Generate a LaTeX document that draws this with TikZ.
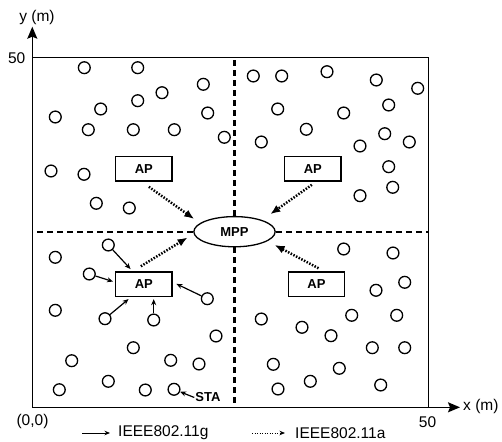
\documentclass[tikz,border=0pt]{standalone}
\usepackage{fontspec}
\setmainfont{Liberation Sans}
\usetikzlibrary{arrows.meta,shapes.geometric,positioning}

\begin{document}
\begin{tikzpicture}[x=1pt,y=-1pt,
    lbl/.style={inner sep=1pt, font=\fontsize{15.5}{18}\selectfont},
    stanode/.style={draw, circle, minimum size=11.8pt, inner sep=0pt, line width=1.3pt},
    apnode/.style={draw, rectangle, minimum width=56.5pt, minimum height=24.5pt, inner sep=0pt, line width=1.4pt, font=\fontsize{13}{14}\selectfont\bfseries},
    mppnode/.style={draw, ellipse, minimum width=81.3pt, minimum height=30.2pt, inner sep=0pt, line width=1.3pt, fill=white, font=\fontsize{13}{14}\selectfont\bfseries},
    gline/.style={-{Stealth[length=6pt,width=5pt]}, line width=1.2pt},
    aline/.style={-{Latex[length=10pt,width=8pt]}, line width=2.5pt, dash pattern=on 1.5pt off 1.5pt},
    part/.style={line width=2.3pt, dash pattern=on 6pt off 4pt},
    axis/.style={-{Stealth[length=12pt,width=10pt,inset=2pt]}, line width=1.3pt}
  ]
    \useasboundingbox (0,0) rectangle (502,441);
    % area and axes
    \coordinate (o) at (32.3,407.3);
    \coordinate (ne) at (428.3,57.3);
    \coordinate (xend) at (460,407.3);
    \coordinate (yend) at (32.3,26.7);
    \draw[line width=1.3pt] (o) rectangle (ne);
    \draw[axis] (o) -- (xend);
    \draw[axis] (o) -- (yend);
    \node[lbl] (ylbl) at (37,17.5) {y (m)};
    \node[lbl, anchor=west] (xlbl) at (462,406.7) {x (m)};
    \node[lbl] (ymax) at (16.7,58) {50};
    \node[lbl] (xmax) at (427.5,422) {50};
    \node[lbl] (orig) at (32.5,421) {(0,0)};

    % mesh portal and access points
    \node[mppnode] (mpp) at (234.5,231.7) {MPP};
    \draw[part] (mpp.north) -- (mpp.north |- ne);
    \draw[part] (mpp.south) -- (mpp.south |- o);
    \draw[part] (mpp.west) -- (mpp.west -| o);
    \draw[part] (mpp.east) -- (mpp.east -| ne);
    \node[apnode] (apTL) at (143.85,168.85) {AP};
    \node[apnode] (apTR) at (312.85,168.85) {AP};
    \node[apnode] (apBL) at (143.85,284.2) {AP};
    \node[apnode] (apBR) at (316.5,284.2) {AP};

    % stations
    \foreach \x/\y in {84.3/67.7, 137.7/67.7, 203.3/84.3, 162/92.7, 100.7/109, 137.7/100.7,
        55.3/117, 207.7/113, 88.3/129.7, 133.3/129.7, 174.3/129.7, 224.3/137.3,
        51/171, 84/174.3, 96.3/203.3, 129.3/208,
        253.3/76, 281.7/76, 327/71.7, 376.3/80, 417.7/88.3, 388.7/105, 277.7/109,
        343.7/113, 306.3/129.3, 384.7/133.7, 261.3/142, 360/146, 409.3/142,
        388.7/166.7, 392.7/187.3, 360/195.7,
        55.3/257.3, 55.3/310.3, 216/336, 133.3/347.7, 71.7/360.7, 170.7/360.3,
        199/364, 59.3/389.7, 108.3/381.3, 145.3/390,
        343.7/249, 393/253, 404.7/282.3, 376/290.3, 261.3/319, 351.7/315.3,
        396.7/315.3, 302/327.3, 331/335.7, 372.3/347.7, 404.7/347.7, 273.3/364.3,
        339.3/368.3, 310.3/381.3, 278/389, 380.7/385}
      \node[stanode] at (\x,\y) {};
    \node[stanode] (s1) at (108.3,245) {};
    \node[stanode] (s2) at (89.3,274) {};
    \node[stanode] (s3) at (105,318.7) {};
    \node[stanode] (s4) at (153.7,320) {};
    \node[stanode] (s5) at (207.3,298.7) {};
    \node[stanode] (sta) at (174,389.3) {};
    \node[inner sep=1pt, font=\fontsize{13}{14}\selectfont\bfseries] (stalbl) at (208,397.5) {STA};

    % 802.11g links
    \draw[gline, shorten >=3pt] (s1) -- (apBL.131);
    \draw[gline, shorten >=2pt] (s2) -- (apBL.176);
    \draw[gline, shorten >=3pt] (s3) -- (apBL.225);
    \draw[gline, shorten >=2pt] (s4) -- (s4 |- apBL.south);
    \draw[gline, shorten >=4pt] (s5) -- (apBL.4);
    \draw[gline] (stalbl.west) -- (sta);

    % 802.11a links
    \draw[aline, shorten >=7pt] ([xshift=5pt,yshift=-5pt]apTL.south) -- (mpp.166);
    \draw[aline, shorten >=10pt] ([xshift=-1pt,yshift=-3pt]apTR.south) -- (mpp.23);
    \draw[aline, shorten >=7pt] ([xshift=-3pt,yshift=5pt]apBL.north) -- (mpp.183);
    \draw[aline, shorten >=8pt] ([xshift=2pt,yshift=3pt]apBR.north) -- (mpp.344);

    % legend
    \node[lbl, anchor=west] (glbl) at (117,433) {IEEE802.11g};
    \node[lbl, anchor=west] (albl) at (294,433) {IEEE802.11a};
    \coordinate[left=35pt of glbl.west] (gfrom);
    \coordinate[left=42pt of albl.west] (afrom);
    \draw[-{Stealth[length=5.5pt,width=4.5pt]}, line width=1pt, shorten >=7pt] (gfrom) -- (glbl.west);
    \draw[-{Stealth[length=5.5pt,width=4.5pt]}, line width=1pt, dash pattern=on 1pt off 1.5pt, shorten >=9pt] (afrom) -- (albl.west);
\end{tikzpicture}
\end{document}
